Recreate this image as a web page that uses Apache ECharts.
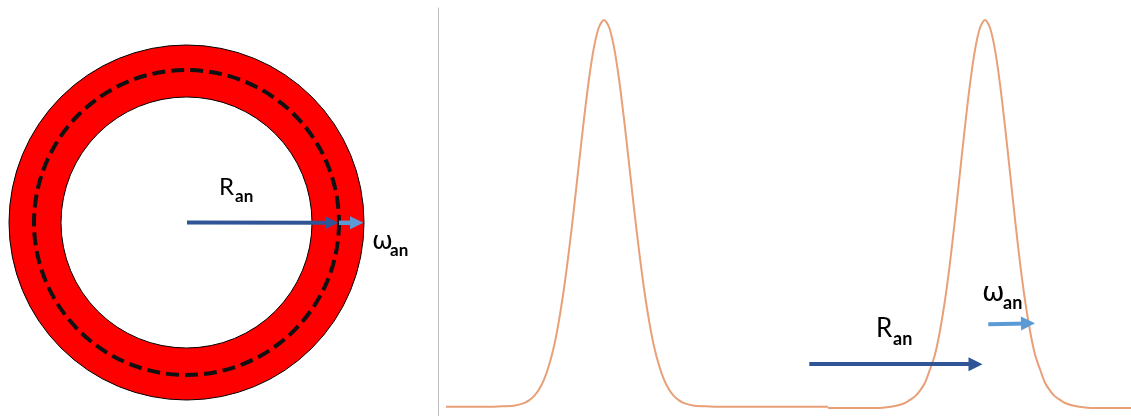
<!DOCTYPE html>
<html>
<head>
<meta charset="utf-8">
<script src="https://cdn.jsdelivr.net/npm/echarts@6/dist/echarts.min.js"></script>
<style>
html,body{margin:0;padding:0;background:#fff;}
#main{width:1131px;height:416px;}
</style>
</head>
<body>
<div id="main"></div>
<script>
// ---- data ----
// first profile segment (x in profile units, y in % of peak height)
const profileAX = [8, 30, 56, 66, 76, 86, 91, 96, 101, 106, 111, 116, 121, 126, 131, 136, 141, 146, 151, 156, 161, 166,
  171, 176, 181, 186, 191, 196, 201, 206, 211, 216, 221, 226, 231, 236, 241, 246, 256, 266, 276, 300, 340, 390];
const profileAY = [0.35, 0.35, 0.35, 0.45, 0.6, 1.25, 1.95, 3.05, 4.75, 7.3, 11.0, 15.9, 22.6, 30.8, 40.6, 51.5, 63.1, 74.5, 84.8, 93.0, 98.2, 100,
  98.2, 93.0, 84.8, 74.5, 63.1, 51.5, 40.6, 30.8, 22.6, 15.9, 11.0, 7.3, 4.75, 3.05, 1.95, 1.25, 0.6, 0.45, 0.35, 0.35, 0.35, 0.35];
// second profile segment
const profileBX = [390, 420, 437, 447, 457, 467, 472, 477, 482, 487, 492, 497, 502, 507, 512, 517, 522, 527, 532, 537, 542, 547,
  552, 557, 562, 567, 572, 577, 582, 587, 592, 597, 602, 607, 612, 617, 622, 627, 637, 647, 657, 693];
const profileBY = [0, 0, 0, 0.15, 0.5, 1.3, 2.1, 3.0, 4.5, 6.5, 10.0, 13.8, 19.9, 27.8, 37.5, 48.7, 60.7, 72.6, 83.5, 92.3, 98.0, 100,
  98.0, 92.3, 83.5, 72.6, 60.7, 48.7, 37.5, 27.8, 19.9, 13.8, 10.0, 6.5, 4.5, 3.0, 2.1, 1.3, 0.5, 0.15, 0, 0];
// annotation arrows on the profile: [start, end] in profile units
const arrowRan = [[371.3, 11.3], [537.5, 11.3]];
const arrowWan = [[550.3, 21.6], [590.0, 21.8]];
// label texts
const labelMain = ['R', 'ω'];
const labelSub = ['an', 'an'];

const zip = (xs, ys) => xs.map((x, i) => [x, ys[i]]);

const chart = echarts.init(document.getElementById('main'), null, {renderer: 'canvas'});

const darkBlue = '#2F5597';
const lightBlue = '#5B9BD5';
const lineColor = '#E8A078';
const latin = 'Lato, "Open Sans", sans-serif';
const greek = '"DejaVu Sans", sans-serif';

function label(x, base, size, family, sub, subSize, subDx, subDy, main) {
  return [
    {type: 'text', z: 100, silent: true, style: {text: main, x: x, y: base - 0.36 * size, fill: '#000',
      font: size + 'px ' + family, verticalAlign: 'middle', align: 'left'}},
    {type: 'text', z: 100, silent: true, style: {text: sub, x: x + subDx, y: base + subDy - 0.36 * subSize, fill: '#000',
      font: 'bold ' + subSize + 'px ' + latin, verticalAlign: 'middle', align: 'left'}}
  ];
}

const cx = 186.5, cy = 222.5;
const graphics = [
  {type: 'ring', silent: true, z: 1, shape: {cx: cx, cy: cy, r: 177.5, r0: 125.5},
    style: {fill: '#FF0000', stroke: '#000', lineWidth: 1}},
  {type: 'circle', silent: true, z: 2, shape: {cx: cx, cy: cy, r: 152.5},
    style: {fill: null, stroke: '#111', lineWidth: 4, lineDash: [13, 6]}},
  {type: 'line', silent: true, z: 3, shape: {x1: 187, y1: 222.5, x2: 327, y2: 222.8},
    style: {stroke: darkBlue, lineWidth: 4}},
  {type: 'polygon', silent: true, z: 3, shape: {points: [[325, 216.3], [338.5, 222.8], [325, 229.3]]},
    style: {fill: darkBlue}},
  {type: 'line', silent: true, z: 3, shape: {x1: 339, y1: 222.8, x2: 352, y2: 222.8},
    style: {stroke: lightBlue, lineWidth: 4.5}},
  {type: 'polygon', silent: true, z: 3, shape: {points: [[350, 216.3], [363.5, 222.8], [350, 229.3]]},
    style: {fill: lightBlue}}
]
  .concat(label(219, 196, 24, latin, labelSub[0], 17, 16, 7, labelMain[0]))
  .concat(label(372, 251, 25, greek, labelSub[1], 17, 18, 6, labelMain[1]))
  .concat(label(876, 338, 26, latin, labelSub[0], 18, 17, 8, labelMain[0]))
  .concat(label(982, 304, 27, greek, labelSub[1], 18, 21, 5.5, labelMain[1]));

function arrowLine(pts, color, width) {
  return [
    {coord: pts[0], symbol: 'none', lineStyle: {color: color, width: width, type: 'solid'}},
    {coord: pts[1], symbol: 'triangle', symbolSize: 14}
  ];
}

const option = {
  animation: false,
  backgroundColor: '#fff',
  grid: {left: 438, right: 0, top: 8, bottom: 0, containLabel: false},
  xAxis: {type: 'value', min: 0, max: 693, show: false},
  yAxis: {
    type: 'value', min: -2.06, max: 103.1,
    axisLine: {show: true, lineStyle: {color: '#BFBFBF', width: 1}},
    axisTick: {show: false}, axisLabel: {show: false}, splitLine: {show: false}
  },
  graphic: {elements: graphics},
  series: [
    {
      type: 'line', data: zip(profileAX, profileAY), smooth: 0.3, symbol: 'none',
      lineStyle: {color: lineColor, width: 2}, silent: true, z: 2,
      markLine: {
        silent: true, animation: false, symbol: ['none', 'triangle'], symbolSize: [0, 14],
        label: {show: false}, emphasis: {disabled: true},
        data: [arrowLine(arrowRan, darkBlue, 4), arrowLine(arrowWan, lightBlue, 4)]
      }
    },
    {
      type: 'line', data: zip(profileBX, profileBY), smooth: 0.3, symbol: 'none',
      lineStyle: {color: lineColor, width: 2}, silent: true, z: 2
    }
  ]
};
chart.setOption(option);
</script>
</body>
</html>
